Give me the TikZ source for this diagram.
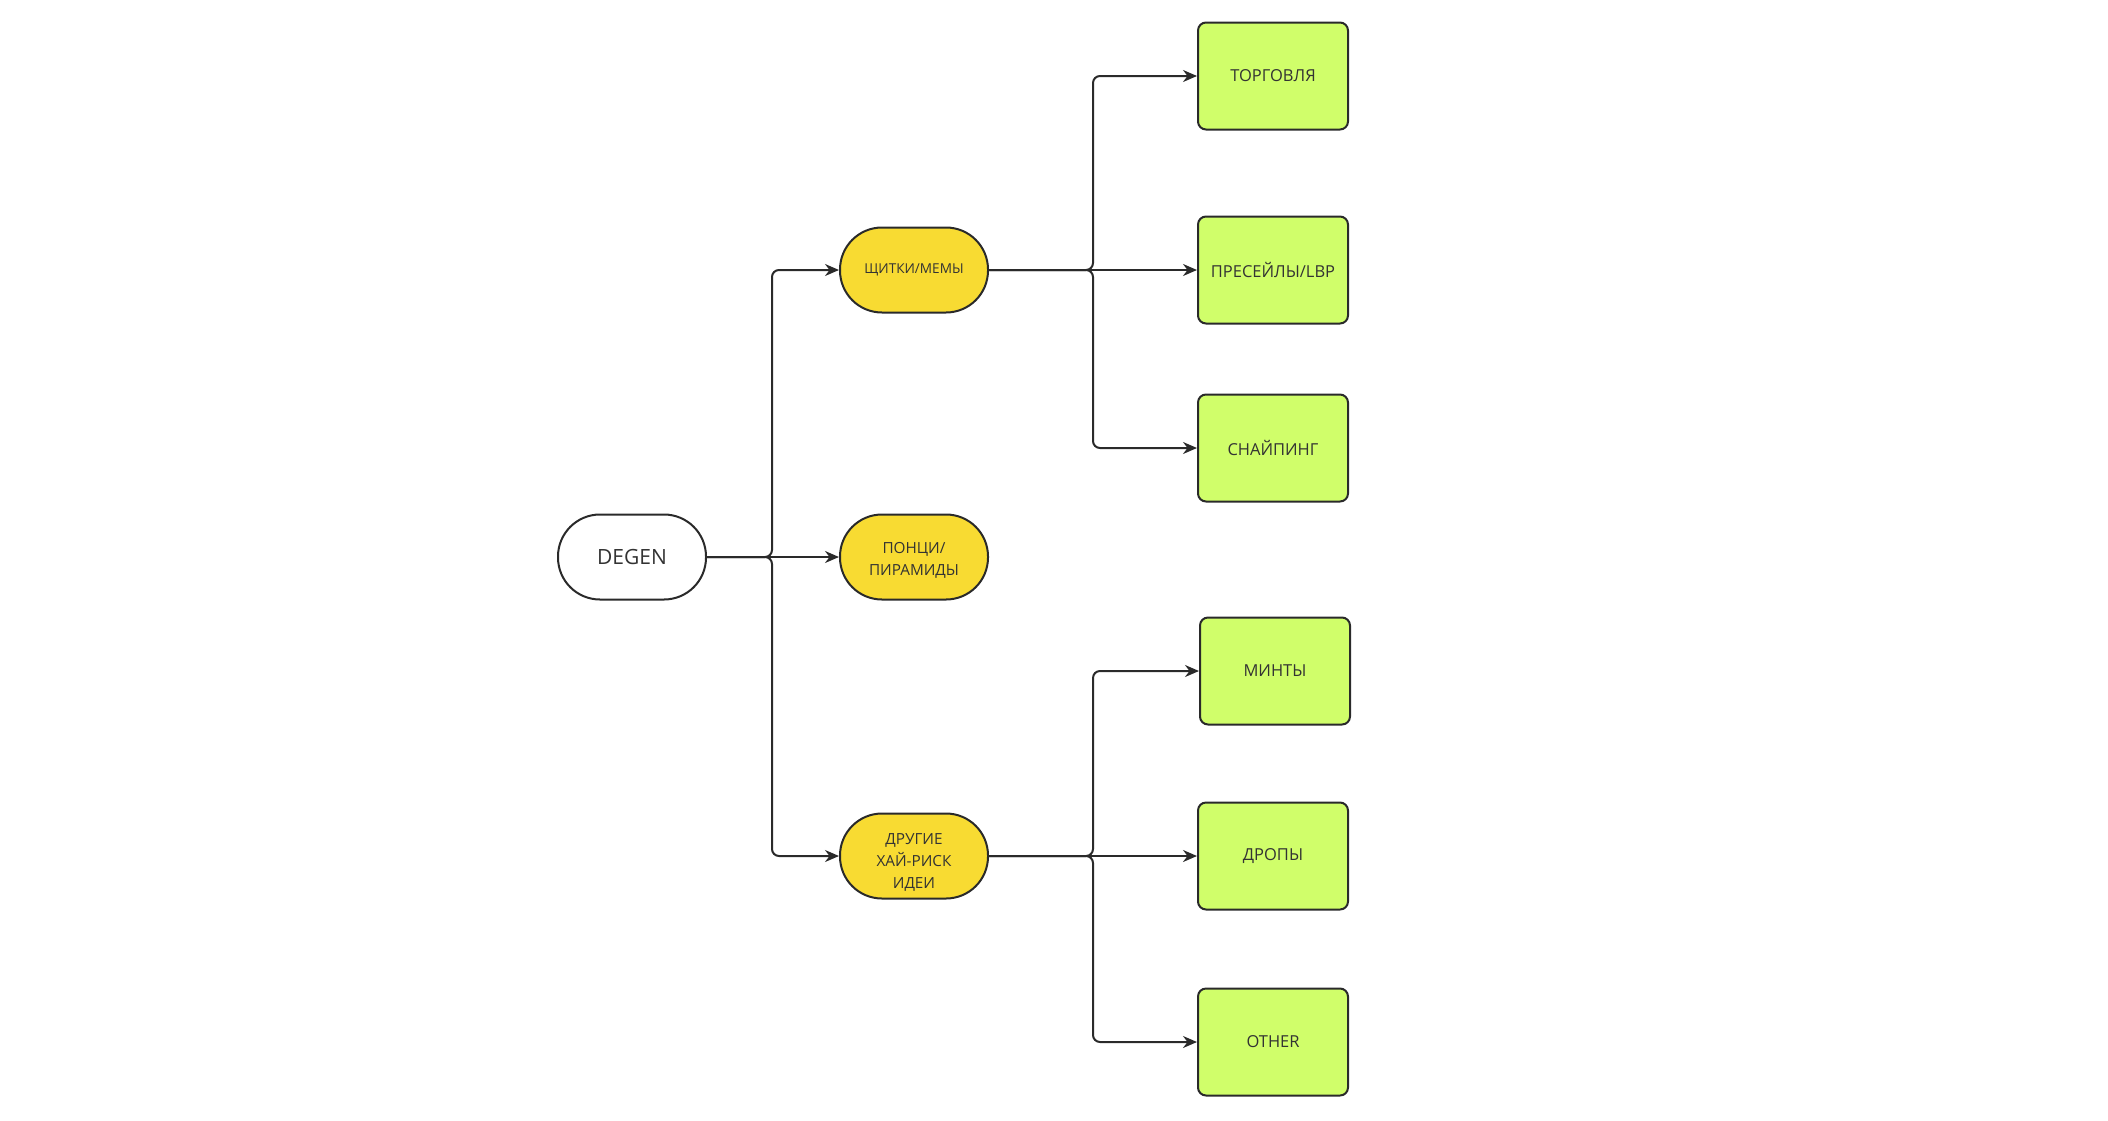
\documentclass[tikz,border=0pt]{standalone}
\usepackage{fontspec}
\setmainfont{Open Sans}
\usetikzlibrary{arrows.meta}
\definecolor{ylw}{HTML}{F8DB32}
\definecolor{grn}{HTML}{D0FE6A}
\definecolor{ink}{HTML}{2A2A2A}
\definecolor{txt}{HTML}{333333}
\newcommand{\stacktxt}[2]{\raisebox{#1}[\height][\depth]{\begin{tabular}{@{}c@{}}#2\end{tabular}}}
\begin{document}
\begin{tikzpicture}[x=1pt,y=-1pt,
  base/.style={draw=ink, line width=2pt, text=txt, align=center, inner sep=0pt},
  pill/.style={base, minimum width=148pt, minimum height=85pt, rounded corners=42pt},
  startpill/.style={pill, fill=white, font=\fontsize{21}{24}\selectfont},
  catpill/.style={pill, fill=ylw, font=\fontsize{15.3}{22}\selectfont},
  leaf/.style={base, fill=grn, minimum width=150pt, minimum height=107pt, rounded corners=8pt, font=\fontsize{16.5}{21}\selectfont},
  conn/.style={draw=ink, line width=2pt, rounded corners=7pt, -{Stealth[length=14pt,width=12pt]}}
]
\useasboundingbox (0,0) rectangle (2108,1120);
\node[startpill] (degen) at (632,557) {DEGEN};
\node[catpill, font=\fontsize{13.6}{20}\selectfont] (shch) at (914,270) {ЩИТКИ/МЕМЫ};
\node[catpill] (ponzi) at (914,557) {\stacktxt{-3.5pt}{ПОНЦИ/\\ПИРАМИДЫ}};
\node[catpill] (other) at (914,856) {\stacktxt{-6pt}{ДРУГИЕ\\ХАЙ-РИСК\\ИДЕИ}};
\node[leaf] (torg) at (1273,76) {ТОРГОВЛЯ};
\node[leaf] (pres) at (1273,270) {ПРЕСЕЙЛЫ/LBP};
\node[leaf] (snip) at (1273,448) {СНАЙПИНГ};
\node[leaf] (mint) at (1275,671) {МИНТЫ};
\node[leaf] (drop) at (1273,856) {ДРОПЫ};
\node[leaf] (oth) at (1273,1042) {OTHER};
\coordinate (j0) at (772,557);
\coordinate (j1) at (1093,270);
\coordinate (j2) at (1093,856);
\draw[conn] (degen.east) -- (j0) |- (shch.west);
\draw[conn] (degen.east) -- (ponzi.west);
\draw[conn] (degen.east) -- (j0) |- (other.west);
\draw[conn] (shch.east) -- (j1) |- (torg.west);
\draw[conn] (shch.east) -- (pres.west);
\draw[conn] (shch.east) -- (j1) |- (snip.west);
\draw[conn] (other.east) -- (j2) |- (mint.west);
\draw[conn] (other.east) -- (drop.west);
\draw[conn] (other.east) -- (j2) |- (oth.west);
\end{tikzpicture}
\end{document}
